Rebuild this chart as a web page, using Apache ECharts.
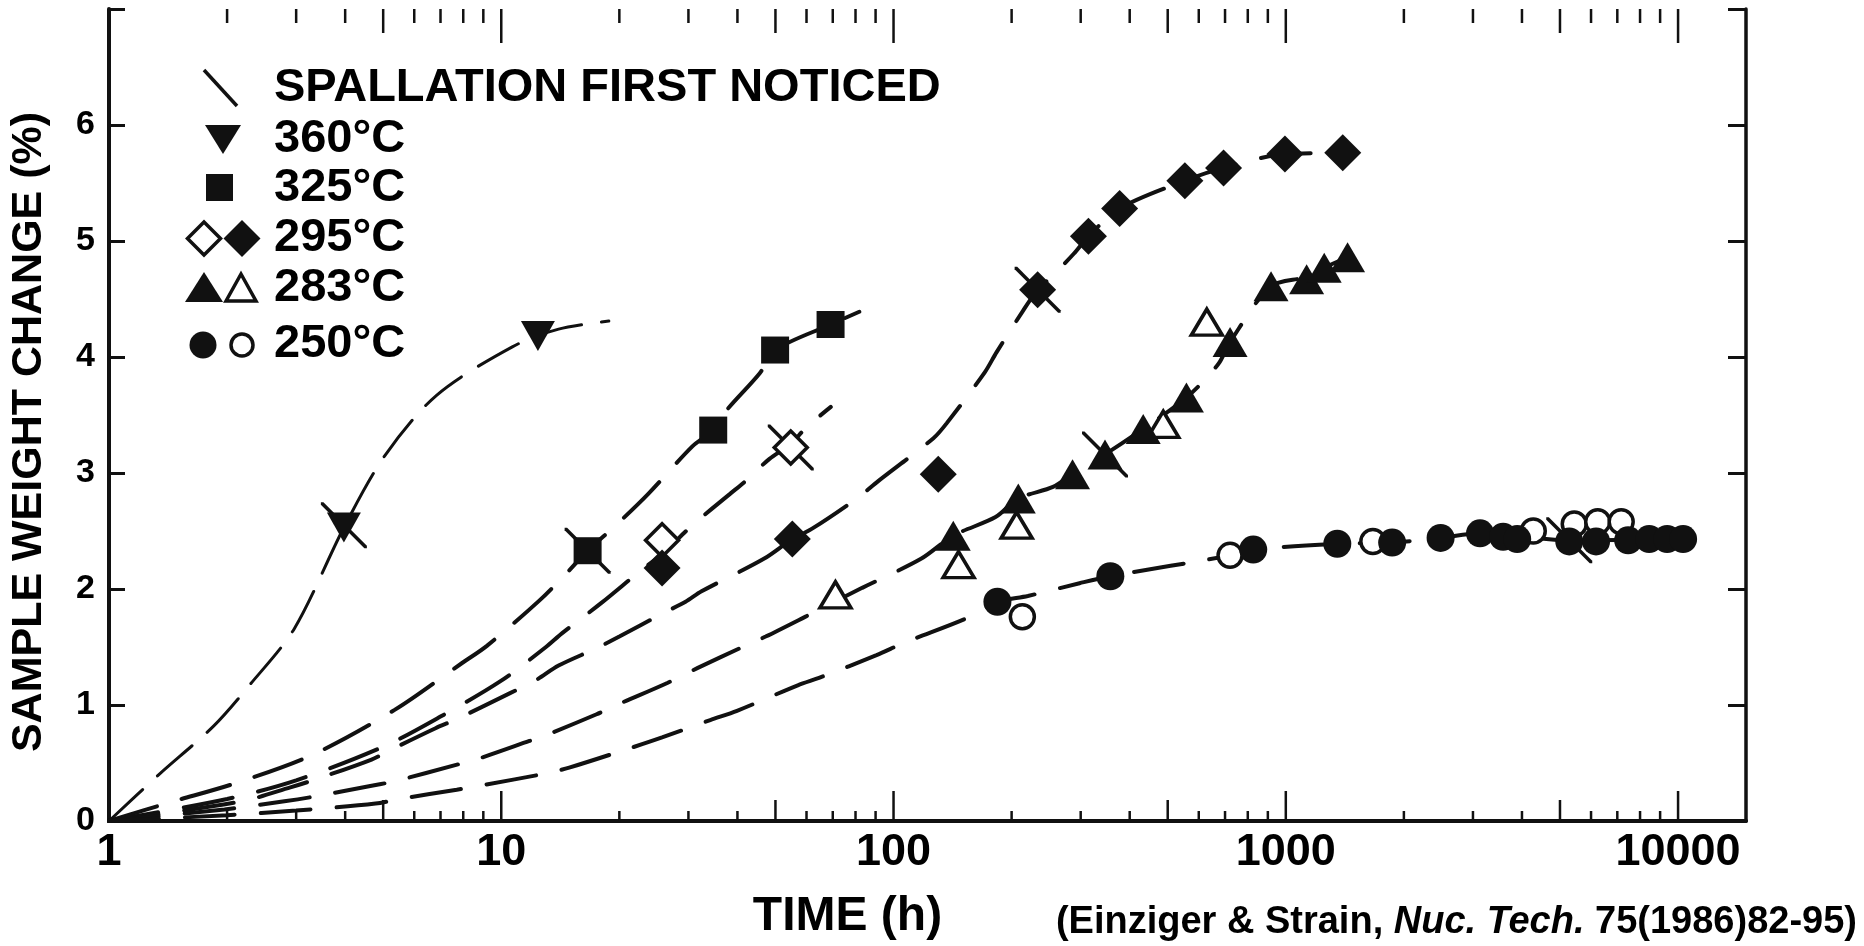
<!DOCTYPE html>
<html>
<head>
<meta charset="utf-8">
<title>Sample weight change vs time</title>
<script src="https://cdn.jsdelivr.net/npm/echarts@6/dist/echarts.min.js"></script>
<style>
  html, body { margin: 0; padding: 0; background: #fff; }
  #chart { width: 1864px; height: 946px; }
</style>
</head>
<body>
<div id="chart"></div>
<script>
// fitted curves (dashed), [time h, weight change %]
var curve360 = [[1,0],[1.34,0.40],[1.85,0.82],[2.28,1.17],[2.97,1.66],[3.97,2.53],[5.05,3.15],[6.84,3.67],[10.7,4.09],[14,4.24],[18.8,4.31]];
var curve325 = [[1,0],[1.43,0.16],[2.12,0.33],[3.30,0.57],[5.36,0.96],[7.93,1.36],[9.19,1.51],[12.5,1.90],[14.9,2.16],[16.6,2.33],[19.6,2.55],[23.7,2.82],[30.7,3.23],[34.7,3.37],[37.3,3.53],[45.6,3.86],[49.9,4.06],[69.1,4.28],[81.8,4.39]];
var curve295a = [[1,0],[2,0.19],[3,0.35],[5,0.64],[7,0.9],[10,1.21],[13,1.5],[14.3,1.62],[18,1.88],[22.7,2.16],[25.7,2.3],[30.7,2.55],[38.3,2.82],[41.6,2.92],[48.2,3.12],[54.7,3.25],[59.8,3.39],[69.2,3.57]];
var curve295b = [[1,0],[2.18,0.17],[2.9,0.29],[3.37,0.36],[4.67,0.53],[5.2,0.61],[6.8,0.8],[7.6,0.87],[10.5,1.1],[12.2,1.21],[14,1.34],[17.5,1.49],[20,1.59],[25.8,1.79],[29.5,1.89],[32.4,1.98],[46.7,2.26],[55.2,2.43],[62,2.52],[80.6,2.78],[91.4,2.93],[126.4,3.30],[136.7,3.43],[171,3.87],[183,4.04],[214,4.40],[233,4.58],[256,4.71],[288,4.89],[314,5.04],[377,5.28],[553,5.52],[694,5.63],[995,5.75],[1397,5.76]];
var curve283 = [[1,0],[1.97,0.1],[2.8,0.17],[3.33,0.21],[4.6,0.3],[5.3,0.34],[7.8,0.49],[8.8,0.54],[11.8,0.69],[13,0.74],[17.5,0.92],[20,1.01],[26.5,1.19],[31.7,1.32],[41.2,1.50],[47.2,1.59],[59.5,1.76],[83.2,2.01],[117.5,2.26],[142,2.46],[182,2.62],[208,2.78],[255,2.88],[286,2.99],[346,3.16],[433,3.38],[558,3.65],[673,3.94],[721,4.13],[917,4.61],[1130,4.69],[1253,4.77],[1437,4.86]];
var curve250 = [[1,0],[2,0.05],[3,0.09],[4.78,0.15],[5.5,0.19],[7.7,0.27],[9,0.31],[13,0.41],[14.9,0.46],[21.4,0.63],[25.7,0.72],[34.1,0.87],[39.9,0.95],[57,1.17],[65.3,1.24],[90.5,1.43],[107,1.54],[154,1.75],[184,1.89],[220,1.94],[298,2.05],[357,2.11],[725,2.29],[826,2.34],[1353,2.39],[1867,2.40],[2481,2.44],[3127,2.48],[5280,2.42],[10300,2.43]];

// measured points
var pts360 = [[3.97,2.53],[12.4,4.18]];
var pts325 = [[16.6,2.33],[34.7,3.37],[49.9,4.06],[69.1,4.28]];
var pts295open = [[25.7,2.42],[54.7,3.22]];
var pts295 = [[25.7,2.18],[55.2,2.43],[130,2.99],[233,4.58],[314,5.04],[377,5.28],[553,5.52],[694,5.63],[995,5.75],[1397,5.76]];
var pts283 = [[142,2.46],[208,2.78],[286,2.99],[346,3.16],[433,3.38],[558,3.65],[721,4.13],[917,4.61],[1130,4.67],[1253,4.77],[1437,4.86]];
var pts283open = [[71.1,1.95],[146.5,2.21],[206,2.55],[487,3.42],[629,4.30]];
var pts250 = [[184,1.89],[357,2.11],[826,2.34],[1353,2.39],[1867,2.40],[2481,2.44],[3127,2.48],[3581,2.45],[3890,2.43],[5280,2.41],[6180,2.41],[7460,2.42],[8440,2.43],[9380,2.43],[10300,2.43]];
var pts250open = [[213,1.76],[721,2.29],[1667,2.41],[4274,2.50],[5437,2.56],[6240,2.58],[7161,2.58]];
var spallation = [[3.97,2.55],[16.6,2.33],[54.7,3.22],[233,4.58],[346,3.16],[5280,2.42]];

// axis ticks
var xTickValues = [2,3,4,5,6,7,8,9,10,20,30,40,50,60,70,80,90,100,200,300,400,500,600,700,800,900,1000,
                   2000,3000,4000,5000,6000,7000,8000,9000,10000];
var yTicks = [0,1,2,3,4,5,6];

var FONT = '"Liberation Sans", Arial, Helvetica, sans-serif';
var INK = '#111';
var slash = 'path://M0,0 L0.55,0 L10,9.45 L10,10 L9.45,10 L0,0.55 Z';

function dashed(data, width, dash) {
    return {
        type: 'line', data: data, smooth: 0.3, symbol: 'none', silent: true,
        lineStyle: { color: INK, width: width, type: dash, cap: 'round', opacity: 1 },
        z: 2
    };
}

function points(name, data, symbol, size, open, rotate) {
    return {
        type: 'scatter', name: name, data: data, symbol: symbol, symbolSize: size,
        symbolRotate: rotate || 0,
        itemStyle: open
            ? { color: '#fff', borderColor: INK, borderWidth: 3.5, opacity: 1 }
            : { color: INK, opacity: 1 },
        z: open ? 4 : 5
    };
}

var chart = echarts.init(document.getElementById('chart'));

var option = {
    backgroundColor: '#fff',
    animation: false,
    textStyle: { fontFamily: FONT, color: '#000' },
    grid: { left: 109, right: 118, top: 9, bottom: 118 },
    xAxis: [{
        type: 'log', logBase: 10, min: 1, max: 14900,
        name: 'TIME (h)', nameLocation: 'middle', nameGap: 72,
        nameTextStyle: { fontFamily: FONT, fontWeight: 'bold', fontSize: 48, color: '#000', padding: [0, 160, 0, 0] },
        axisLine: { lineStyle: { color: INK, width: 4 } },
        axisTick: { show: false },
        splitLine: { show: false },
        axisLabel: {
            showMaxLabel: false, margin: 9,
            fontFamily: FONT, fontWeight: 'bold', fontSize: 45, color: '#000',
            formatter: function (v) { return String(Math.round(v)); }
        }
    }, {
        type: 'log', logBase: 10, min: 1, max: 14900, position: 'top',
        axisLine: { lineStyle: { color: INK, width: 3.5 } },
        axisTick: { show: false }, axisLabel: { show: false }, splitLine: { show: false }
    }],
    yAxis: [{
        type: 'value', min: 0, max: 7, interval: 1,
        name: 'SAMPLE WEIGHT CHANGE (%)', nameLocation: 'middle', nameGap: 58,
        nameTextStyle: { fontFamily: FONT, fontWeight: 'bold', fontSize: 43, color: '#000', padding: [0, 34, 0, 0] },
        axisLine: { lineStyle: { color: INK, width: 4 } },
        axisTick: { inside: true, length: 16, lineStyle: { color: INK, width: 3 } },
        splitLine: { show: false },
        axisLabel: {
            margin: 14, fontFamily: FONT, fontWeight: 'bold', fontSize: 34, color: '#000',
            formatter: function (v) { return yTicks.indexOf(v) >= 0 ? String(v) : ''; }
        }
    }, {
        type: 'value', min: 0, max: 7, interval: 1, position: 'right',
        axisLine: { lineStyle: { color: INK, width: 3.5 } },
        axisTick: { inside: true, length: 18, lineStyle: { color: INK, width: 3 } },
        axisLabel: { show: false }, splitLine: { show: false }
    }],
    series: [
        {
            type: 'custom', silent: true, z: 1,
            data: xTickValues.map(function (t) { return [t, 0]; }),
            renderItem: function (params, api) {
                var t = api.value(0);
                var lead = Math.round(t / Math.pow(10, Math.floor(Math.log10(t) + 1e-9)));
                var lenB = lead === 1 ? 30 : (lead === 5 ? 21 : 10);
                var lenT = lead === 1 ? 34 : (lead === 5 ? 24 : 14);
                var b = api.coord([t, 0]);
                var tp = api.coord([t, 7]);
                var st = { stroke: INK, lineWidth: 2.5 };
                return {
                    type: 'group',
                    children: [
                        { type: 'line', shape: { x1: b[0], y1: b[1], x2: b[0], y2: b[1] - lenB }, style: st },
                        { type: 'line', shape: { x1: tp[0], y1: tp[1], x2: tp[0], y2: tp[1] + lenT }, style: st }
                    ]
                };
            }
        },
        dashed(curve360, 3, [46, 20]),
        dashed(curve325, 4, [50, 26]),
        dashed(curve295a, 4, [50, 26]),
        dashed(curve295b, 4, [50, 26]),
        dashed(curve283, 4, [50, 26]),
        dashed(curve250, 4, [50, 26]),
        {
            type: 'scatter', name: 'SPALLATION FIRST NOTICED', data: spallation,
            symbol: slash, symbolSize: 46, itemStyle: { color: INK, opacity: 1 }, z: 3
        },
        points('360°C', pts360, 'triangle', [34, 30], false, 180),
        points('325°C', pts325, 'rect', [28, 27], false),
        points('295°C open', pts295open, 'diamond', [33, 33], true),
        points('295°C', pts295, 'diamond', [37, 37], false),
        points('283°C open', pts283open, 'triangle', [31, 26], true),
        points('283°C', pts283, 'triangle', [35, 30], false),
        points('250°C open', pts250open, 'circle', 24, true),
        points('250°C', pts250, 'circle', 28, false)
    ],
    graphic: [
        { type: 'line', shape: { x1: 204, y1: 70, x2: 237, y2: 106 }, style: { stroke: INK, lineWidth: 3.5 } },
        { type: 'polygon', shape: { points: [[205, 125], [241, 125], [223, 154]] }, style: { fill: INK } },
        { type: 'rect', shape: { x: 206, y: 174, width: 27, height: 27 }, style: { fill: INK } },
        { type: 'polygon', shape: { points: [[204, 222], [220.5, 238.5], [204, 255], [187.5, 238.5]] }, style: { fill: '#fff', stroke: INK, lineWidth: 3.5 } },
        { type: 'polygon', shape: { points: [[242, 220], [260.5, 238.5], [242, 257], [223.5, 238.5]] }, style: { fill: INK } },
        { type: 'polygon', shape: { points: [[185, 302], [204, 272], [223, 302]] }, style: { fill: INK } },
        { type: 'polygon', shape: { points: [[226, 301], [241, 274], [256, 301]] }, style: { fill: '#fff', stroke: INK, lineWidth: 3.5 } },
        { type: 'circle', shape: { cx: 203, cy: 345, r: 13.5 }, style: { fill: INK } },
        { type: 'circle', shape: { cx: 242, cy: 345, r: 11 }, style: { fill: '#fff', stroke: INK, lineWidth: 3.5 } },
        { type: 'text', left: 274, top: 65, style: { text: 'SPALLATION FIRST NOTICED', font: 'bold 47px ' + FONT, fill: '#000' } },
        { type: 'text', left: 274, top: 116, style: { text: '360°C', font: 'bold 47px ' + FONT, fill: '#000' } },
        { type: 'text', left: 274, top: 165, style: { text: '325°C', font: 'bold 47px ' + FONT, fill: '#000' } },
        { type: 'text', left: 274, top: 215, style: { text: '295°C', font: 'bold 47px ' + FONT, fill: '#000' } },
        { type: 'text', left: 274, top: 265, style: { text: '283°C', font: 'bold 47px ' + FONT, fill: '#000' } },
        { type: 'text', left: 274, top: 321, style: { text: '250°C', font: 'bold 47px ' + FONT, fill: '#000' } },
        {
            type: 'text', x: 1857, y: 923,
            style: {
                text: '{a|(Einziger & Strain, }{b|Nuc. Tech.}{a| 75(1986)82-95)}',
                align: 'right', verticalAlign: 'middle',
                rich: {
                    a: { font: 'bold 38px ' + FONT, fill: '#000' },
                    b: { font: 'italic bold 38px ' + FONT, fill: '#000' }
                }
            }
        }
    ]
};

chart.setOption(option);
</script>
</body>
</html>
